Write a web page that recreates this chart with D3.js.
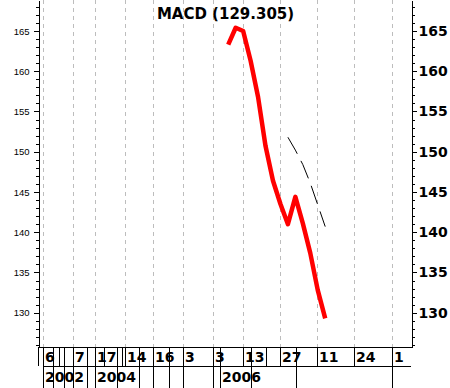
<!DOCTYPE html>
<html>
<head>
<meta charset="utf-8">
<script src="https://cdn.jsdelivr.net/npm/d3@7"></script>
<style>
  body { margin: 0; background: #fff; }
  svg { display: block; }
</style>
</head>
<body>
<svg id="mysvg"></svg>
<script>
// MACD values (red) and the signal line (dashed), x in bar periods
const periods = [25.5, 26.5, 27.5, 28.5, 29.5, 30.5, 31.5, 32.5, 33.5, 34.5, 35.5, 36.5, 37.5, 38.5];
const macd = [163.3, 165.4, 165.0, 161.3, 156.8, 150.7, 146.4, 143.5, 141.0, 144.4, 141.1, 137.4, 132.8, 129.305];
const signalPeriods = [33.5, 34.5, 35.5, 36.5, 37.5, 38.5];
const signal = [151.8, 150.2, 148.4, 146.1, 143.4, 140.7];

// bottom calendar axis
const dayTicks = [0.7, 4.7, 7.6, 11.7, 15.4, 19.4, 23.5, 27.5, 32.4, 37.4, 42.4, 47.5];
const dayLabels = ["6", "7", "17", "14", "16", "3", "3", "13", "27", "11", "24", "1"];
const rowOneExtra = [2.0, 2.8, 3.5, 6.6, 8.8, 10.6, 11.3, 13.5, 17.6, 24.4, 28.6, 30.6, 34.6];
const rowTwoLines = [0.7, 2.0, 3.5, 4.7, 6.6, 7.6, 10.6, 13.5, 15.4, 17.6, 19.4, 23.5, 24.4, 28.6, 34.6, 47.5];
const yearTicks = [0.7, 7.6, 24.4];
const yearLabels = ["2002", "2004", "2006"];

const yMajor = [130, 135, 140, 145, 150, 155, 160, 165];
const yMinor = d3.range(126, 169);

const width = 450, height = 388;
const plotLeft = 38, plotRight = 411, plotTop = 0, plotBottom = 347;
const rowSplit = 366;

const svg = d3.select('#mysvg').attr('width', width).attr('height', height);
svg.append('rect').attr('width', width).attr('height', height).attr('fill', '#fff');

let xScale = d3.scaleLinear().domain([0, 50]).range([plotLeft, plotRight]);
let yScale = d3.scaleLinear().domain([125.74, 168.85]).range([plotBottom, plotTop]);

// dashed vertical grid
svg.append('g').selectAll('line').data(dayTicks).join('line')
  .attr('x1', d => Math.round(xScale(d)) + 0.5).attr('x2', d => Math.round(xScale(d)) + 0.5)
  .attr('y1', plotTop).attr('y2', plotBottom)
  .attr('stroke', '#bdbdbd').attr('stroke-dasharray', '4,4');

// frame bottom
svg.append('line').attr('x1', plotLeft).attr('x2', plotRight + 1).attr('y1', plotBottom + 0.5).attr('y2', plotBottom + 0.5)
  .attr('stroke', '#000');

// left axis
const leftAxis = svg.append('g').attr('transform', `translate(${plotLeft + 0.5},0)`);
leftAxis.append('g').call(d3.axisLeft(yScale).tickValues(yMinor).tickSize(3).tickSizeOuter(0).tickFormat(''));
leftAxis.append('g').call(d3.axisLeft(yScale).tickValues(yMajor).tickSize(5).tickSizeOuter(0).tickPadding(4))
  .selectAll('text').attr('font-family', 'Liberation Sans, Arial, sans-serif').attr('font-size', 9.5).attr('fill', '#000');

// right axis
const rightAxis = svg.append('g').attr('transform', `translate(${plotRight + 0.5},0)`);
rightAxis.append('g').call(d3.axisRight(yScale).tickValues(yMinor).tickSize(3).tickSizeOuter(0).tickFormat(''));
rightAxis.append('g').call(d3.axisRight(yScale).tickValues(yMajor).tickSize(5).tickSizeOuter(0).tickPadding(2))
  .selectAll('text').attr('font-family', 'DejaVu Sans, sans-serif').attr('font-weight', 'bold')
  .attr('font-size', 14).attr('fill', '#000');

svg.selectAll('.domain, .tick line').attr('stroke', '#000').attr('shape-rendering', 'crispEdges');

// signal line
let signalLine = d3.line().x((d, i) => xScale(signalPeriods[i])).y(d => yScale(d));
svg.append('path').datum(signal).attr('d', signalLine)
  .attr('fill', 'none').attr('stroke', '#000').attr('stroke-width', 1).attr('stroke-dasharray', '19,8');

// macd line
let macdLine = d3.line().x((d, i) => xScale(periods[i])).y(d => yScale(d));
svg.append('path').datum(macd).attr('d', macdLine)
  .attr('fill', 'none').attr('stroke', '#ff0000').attr('stroke-width', 4.5)
  .attr('stroke-linejoin', 'round');

// title
svg.append('text').attr('x', 225.5).attr('y', 18.5).attr('text-anchor', 'middle')
  .attr('font-family', 'DejaVu Sans, sans-serif').attr('font-weight', 'bold').attr('font-size', 15)
  .text(`MACD (${macd[macd.length - 1].toFixed(3)})`);

// calendar rows
const cal = svg.append('g').attr('shape-rendering', 'crispEdges').attr('stroke', '#000');
cal.append('line').attr('x1', xScale(0.7)).attr('x2', plotRight).attr('y1', rowSplit + 0.5).attr('y2', rowSplit + 0.5);
cal.append('line').attr('x1', plotLeft + 0.5).attr('x2', plotLeft + 0.5).attr('y1', plotBottom).attr('y2', rowSplit);
cal.selectAll('.r1').data(dayTicks.concat(rowOneExtra)).join('line').attr('class', 'r1')
  .attr('x1', d => Math.round(xScale(d)) + 0.5).attr('x2', d => Math.round(xScale(d)) + 0.5)
  .attr('y1', plotBottom).attr('y2', rowSplit);
cal.selectAll('.r2').data(rowTwoLines).join('line').attr('class', 'r2')
  .attr('x1', d => Math.round(xScale(d)) + 0.5).attr('x2', d => Math.round(xScale(d)) + 0.5)
  .attr('y1', rowSplit).attr('y2', height);

svg.append('g').selectAll('text').data(dayTicks).join('text')
  .attr('x', d => Math.round(xScale(d)) + 2).attr('y', 362)
  .attr('font-family', 'DejaVu Sans, sans-serif').attr('font-weight', 'bold').attr('font-size', 14)
  .text((d, i) => dayLabels[i]);

svg.append('g').selectAll('text').data(yearTicks).join('text')
  .attr('x', d => Math.round(xScale(d)) + 2).attr('y', 382)
  .attr('font-family', 'DejaVu Sans, sans-serif').attr('font-weight', 'bold').attr('font-size', 14)
  .text((d, i) => yearLabels[i]);
</script>
</body>
</html>
